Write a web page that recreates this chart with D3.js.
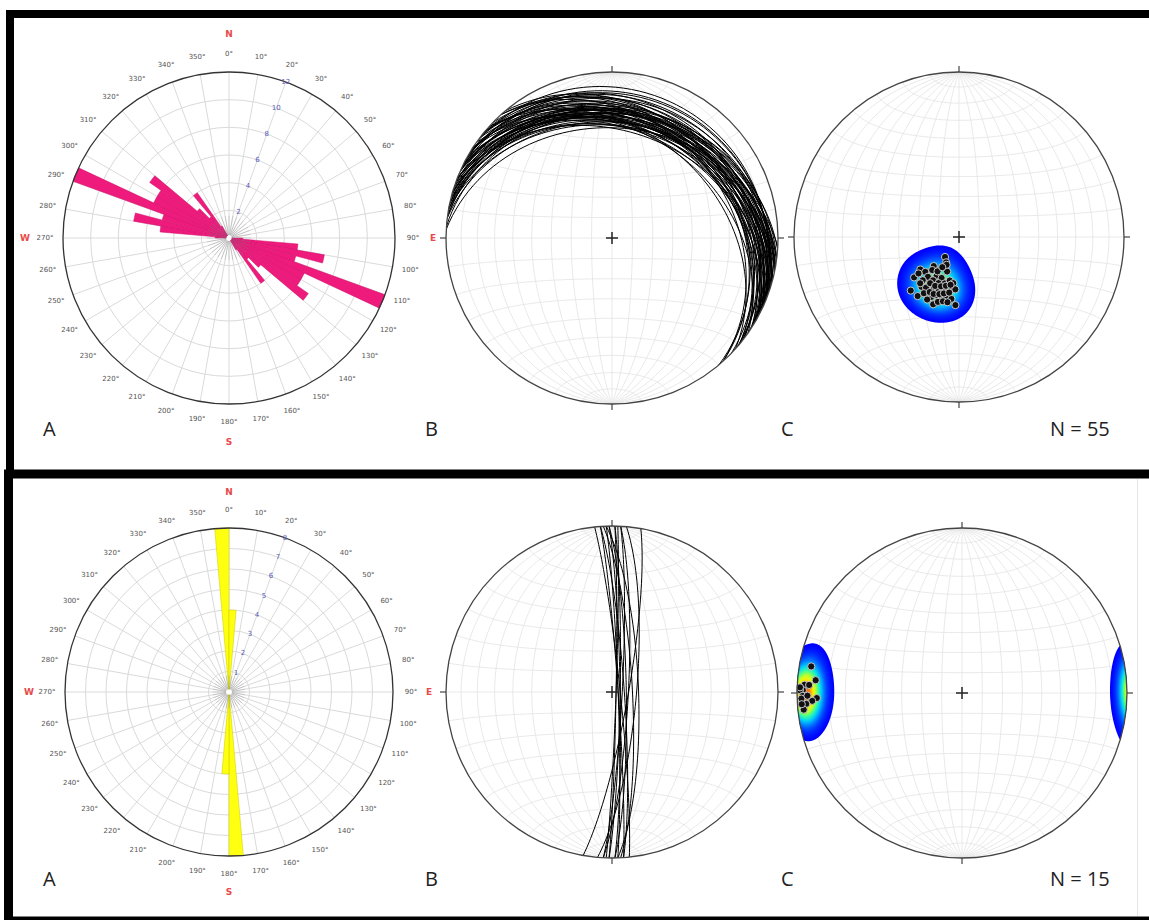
<!DOCTYPE html>
<html>
<head>
<meta charset="utf-8">
<script src="https://cdn.jsdelivr.net/npm/d3@7"></script>
<style>
  body { margin: 0; background: #fff; }
  svg { display: block; }
</style>
</head>
<body>
<svg id="fig" width="1149" height="920"></svg>
<script>
// ---------- data ----------
// strike rose: 5° bins (start azimuth) and counts, plotted bidirectionally
const roseBinWidth = 5;
const setA_binStart = [270, 275, 280, 285, 290, 295, 300, 305, 310, 315, 320, 325];
const setA_counts   = [1, 5, 7, 5, 12, 6, 6, 7, 3, 2, 4, 1];
const setA_ringTicks = [2, 4, 6, 8, 10, 12];

const setB_binStart = [355, 0];
const setB_counts   = [8, 4];
const setB_ringTicks = [1, 2, 3, 4, 5, 6, 7, 8];

// planes as dip direction / dip (degrees)
const setA_dipDir = [35, 27, 41, 50, 44, 48, 48, 38, 30, 23, 19, 24, 40, 31, 24, 17, 12, 7, 42, 37,
                     33, 26, 21, 16, 12, 8, 4, 35, 29, 25, 21, 16, 12, 7, 27, 21, 18, 14, 10, 3,
                     32, 26, 20, 15, 10, 32, 28, 24, 19, 15, 10, 40, 39, 32, 29];
const setA_dip    = [12, 14, 19, 25, 24, 30, 27, 25, 22, 22, 18, 15, 28, 25, 25, 24, 22, 23, 36, 31,
                     30, 29, 28, 28, 26, 26, 26, 36, 33, 33, 31, 31, 31, 31, 35, 36, 34, 33, 33, 34,
                     27, 27, 26, 25, 24, 33, 31, 31, 30, 29, 28, 30, 21, 20, 17];

const setB_dipDir = [100, 95, 93, 93, 91, 91, 89, 88, 87, 86, 84, 92, 88, 86, 89];
const setB_dip    = [82, 78, 85, 82, 86, 88, 86, 77, 80, 84, 86, 88, 87, 87, 83];

const compassDegrees = d3.range(0, 360, 10);
const cardinals = [["N", 0], ["E", 90], ["S", 180], ["W", 270]];

// ---------- setup ----------
const W = 1149, H = 920;
const svg = d3.select("#fig");
svg.append("rect").attr("width", W).attr("height", H).attr("fill", "#fff");

const toRad = d => d * Math.PI / 180;
const toDeg = r => r * 180 / Math.PI;
const polarX = (az, r) => r * Math.sin(toRad(az));
const polarY = (az, r) => -r * Math.cos(toRad(az));

// ---------- frames ----------
svg.append("rect").attr("x", 10).attr("y", 14).attr("width", 1170).attr("height", 460)
  .attr("fill", "none").attr("stroke", "#000").attr("stroke-width", 8);
svg.append("rect").attr("x", 8.5).attr("y", 474).attr("width", 1170).attr("height", 447)
  .attr("fill", "none").attr("stroke", "#000").attr("stroke-width", 9);
svg.append("line").attr("x1", 1137.5).attr("x2", 1137.5).attr("y1", 479).attr("y2", 916)
  .attr("stroke", "#e6e6e6").attr("stroke-width", 1);

// ---------- rose diagram ----------
function drawRose(cx, cy, R, binStart, counts, ringTicks, fill, edge, cardOffset) {
  const g = svg.append("g").attr("transform", `translate(${cx},${cy})`);
  const r = d3.scaleLinear().domain([0, d3.max(ringTicks)]).range([0, R]);

  g.append("g").selectAll("circle").data(ringTicks.slice(0, -1)).join("circle")
    .attr("r", d => r(d)).attr("fill", "none").attr("stroke", "#dadada").attr("stroke-width", 1);
  g.append("g").selectAll("line").data(compassDegrees).join("line")
    .attr("x1", d => polarX(d, 3)).attr("y1", d => polarY(d, 3))
    .attr("x2", d => polarX(d, R)).attr("y2", d => polarY(d, R))
    .attr("stroke", "#dadada").attr("stroke-width", 1);

  const petals = binStart.flatMap((b, i) => [
    { az: b, n: counts[i] },
    { az: (b + 180) % 360, n: counts[i] }
  ]);
  const arc = d3.arc().innerRadius(0);
  g.append("g").selectAll("path").data(petals).join("path")
    .attr("d", d => arc({ outerRadius: r(d.n), startAngle: toRad(d.az), endAngle: toRad(d.az + roseBinWidth) }))
    .attr("fill", fill).attr("stroke", edge).attr("stroke-width", 0.5);

  // spokes converge into a grey hub
  g.append("g").selectAll("line").data(compassDegrees).join("line")
    .attr("x1", d => polarX(d, 3)).attr("y1", d => polarY(d, 3))
    .attr("x2", d => polarX(d, r(ringTicks[0]) * 0.8)).attr("y2", d => polarY(d, r(ringTicks[0]) * 0.8))
    .attr("stroke", "#888").attr("stroke-width", 0.8).attr("opacity", 0.35);

  g.append("circle").attr("r", R).attr("fill", "none").attr("stroke", "#333").attr("stroke-width", 1.3);
  g.append("circle").attr("r", 2.6).attr("fill", "#fff");

  g.append("g").selectAll("text").data(compassDegrees).join("text")
    .attr("x", d => polarX(d, R + 18)).attr("y", d => polarY(d, R + 18))
    .attr("text-anchor", "middle").attr("dominant-baseline", "central")
    .attr("font-family", "DejaVu Sans, sans-serif").attr("font-size", 7).attr("fill", "#555")
    .text(d => d + "°");

  g.append("g").selectAll("text").data(cardinals).join("text")
    .attr("x", d => polarX(d[1], R + cardOffset)).attr("y", d => polarY(d[1], R + cardOffset))
    .attr("text-anchor", "middle").attr("dominant-baseline", "central")
    .attr("font-family", "DejaVu Sans, sans-serif").attr("font-size", 9).attr("font-weight", "bold")
    .attr("fill", "#e84a4a").text(d => d[0]);

  g.append("g").selectAll("text").data(ringTicks).join("text")
    .attr("x", d => polarX(20, r(d))).attr("y", d => polarY(20, r(d)))
    .attr("text-anchor", "middle").attr("dominant-baseline", "central")
    .attr("font-family", "DejaVu Sans, sans-serif").attr("font-size", 7).attr("fill", "#5a5ab8")
    .text(d => d);
}

// ---------- stereonet (equal-area, lower hemisphere) ----------
// a direction (east, north, down) is mapped onto the sphere so that "down" is the projection centre
const dirToLonLat = (e, n, d) => [toDeg(Math.atan2(e, d)), toDeg(Math.asin(Math.max(-1, Math.min(1, n))))];

function lineInPlane(dd, dp, a) {
  const s = toRad(dd - 90), D = toRad(dd), P = toRad(dp), A = toRad(a);
  const e = Math.cos(A) * Math.sin(s) + Math.sin(A) * Math.sin(D) * Math.cos(P);
  const n = Math.cos(A) * Math.cos(s) + Math.sin(A) * Math.cos(D) * Math.cos(P);
  const d = Math.sin(A) * Math.sin(P);
  return dirToLonLat(e, n, d);
}
function poleVec(dd, dp) {
  const t = toRad(dd + 180), pl = toRad(90 - dp);
  return [Math.sin(t) * Math.cos(pl), Math.cos(t) * Math.cos(pl), Math.sin(pl)];
}

const jet = d3.interpolateRgbBasis(["#0000ff", "#0030ff", "#0080ff", "#00d8ff", "#30ffa0", "#b8ff30", "#ffff00", "#ff9000", "#ff1800"]);
const densityColor = d3.scaleSequential(jet).domain([0.06, 0.8]).clamp(true);
const densityLevels = d3.range(0.06, 1.2, 0.015);

let netId = 0;
function drawNet(cx, cy, R, dipDir, dip, mode) {
  const id = "net" + (netId++);
  const proj = d3.geoAzimuthalEqualArea().rotate([0, 0]).clipAngle(90)
    .scale(R / Math.SQRT2).translate([cx, cy]).precision(0.1);
  const path = d3.geoPath(proj);
  const g = svg.append("g");

  svg.append("defs").append("clipPath").attr("id", id)
    .append("circle").attr("cx", cx).attr("cy", cy).attr("r", R);

  g.append("path").datum(d3.geoGraticule().extent([[-180, -90], [180, 90]]).step([10, 10])())
    .attr("d", path).attr("fill", "none").attr("stroke", "#e3e3e3").attr("stroke-width", 0.8);

  if (mode === "planes") {
    const circles = dipDir.map((dd, i) => ({
      type: "LineString",
      coordinates: d3.range(0, 180.01, 3).map(a => lineInPlane(dd, dip[i], a))
    }));
    g.append("g").attr("clip-path", `url(#${id})`).selectAll("path").data(circles).join("path")
      .attr("d", path).attr("fill", "none").attr("stroke", "#000").attr("stroke-width", 1);
  } else {
    const poles = dipDir.map((dd, i) => poleVec(dd, dip[i]));
    // axial spherical kernel density on a pixel grid
    const step = 1.25, kappa = 70;
    const nx = Math.ceil(2 * R / step) + 4, ny = nx;
    const x0 = cx - R - 2 * step, y0 = cy - R - 2 * step;
    const values = new Float64Array(nx * ny);
    for (let j = 0; j < ny; j++) {
      for (let i = 0; i < nx; i++) {
        let x = x0 + i * step - cx, y = y0 + j * step - cy;
        const rr = Math.hypot(x, y);
        if (rr > R * 0.999) { x *= R * 0.999 / rr; y *= R * 0.999 / rr; }
        const ll = proj.invert([cx + x, cy + y]);
        const lon = toRad(ll[0]), lat = toRad(ll[1]);
        const v = [Math.cos(lat) * Math.sin(lon), Math.sin(lat), Math.cos(lat) * Math.cos(lon)];
        let s = 0;
        for (const p of poles) {
          const c = Math.abs(v[0] * p[0] + v[1] * p[1] + v[2] * p[2]);
          s += Math.exp(kappa * (c - 1));
        }
        values[i + j * nx] = s / poles.length;
      }
    }
    const contours = d3.contours().size([nx, ny]).thresholds(densityLevels)(values);
    const cpath = d3.geoPath(d3.geoIdentity().scale(step).translate([x0 - step / 2, y0 - step / 2]));
    g.append("g").attr("clip-path", `url(#${id})`).selectAll("path").data(contours).join("path")
      .attr("d", cpath).attr("fill", d => densityColor(d.value)).attr("stroke", "none");

    const pts = poles.map(p => proj(dirToLonLat(p[0], p[1], p[2])));
    g.append("g").selectAll("circle").data(pts).join("circle")
      .attr("cx", d => d[0]).attr("cy", d => d[1]).attr("r", 3.6)
      .attr("fill", "#111").attr("stroke", "#c8c8c8").attr("stroke-width", 1);
  }

  g.append("circle").attr("cx", cx).attr("cy", cy).attr("r", R)
    .attr("fill", "none").attr("stroke", "#444").attr("stroke-width", 1.3);
  g.append("g").selectAll("line").data(cardinals).join("line")
    .attr("x1", d => cx + polarX(d[1], R)).attr("y1", d => cy + polarY(d[1], R))
    .attr("x2", d => cx + polarX(d[1], R + 6)).attr("y2", d => cy + polarY(d[1], R + 6))
    .attr("stroke", "#444").attr("stroke-width", 1.2);
  g.append("path").attr("d", `M${cx - 6},${cy}H${cx + 6}M${cx},${cy - 6}V${cy + 6}`)
    .attr("stroke", "#222").attr("stroke-width", 1.5);
}

// ---------- panels ----------
drawRose(229, 238, 166, setA_binStart, setA_counts, setA_ringTicks, "#ee1a7c", "#d0106a", 38);
drawNet(612, 238, 166, setA_dipDir, setA_dip, "planes");
drawNet(959, 237, 165, setA_dipDir, setA_dip, "poles");

drawRose(229, 692, 164, setB_binStart, setB_counts, setB_ringTicks, "#ffff10", "#c8c800", 36);
drawNet(612, 692, 166, setB_dipDir, setB_dip, "planes");
drawNet(962, 693, 165, setB_dipDir, setB_dip, "poles");

// panel letters and sample sizes
const labels = [
  ["A", 43, 436], ["B", 425, 436], ["C", 781, 436], ["N = " + setA_dipDir.length, 1050, 436],
  ["A", 43, 886], ["B", 425, 886], ["C", 781, 886], ["N = " + setB_dipDir.length, 1050, 886]
];
svg.append("g").selectAll("text").data(labels).join("text")
  .attr("x", d => d[1]).attr("y", d => d[2])
  .attr("font-family", "Open Sans, sans-serif").attr("font-size", 20).attr("fill", "#222")
  .text(d => d[0]);
</script>
</body>
</html>
